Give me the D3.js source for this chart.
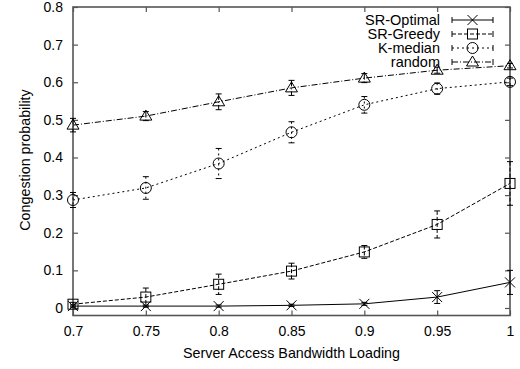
<!DOCTYPE html>
<html>
<head>
<meta charset="utf-8">
<script src="https://cdn.jsdelivr.net/npm/d3@7"></script>
<style>
  html, body { margin: 0; padding: 0; background: #fff; }
  svg { display: block; }
  text { font-family: "Liberation Sans", Arial, Helvetica, sans-serif; fill: #000; }
</style>
</head>
<body>
<svg id="chart" width="520" height="369"></svg>
<script>
// Bandwidth loading levels (x axis)
const loading = [0.7, 0.75, 0.8, 0.85, 0.9, 0.95, 1.0];

// Mean congestion probability per method, with error-bar half widths
const srOptimal    = [0.005, 0.005, 0.005, 0.007, 0.011, 0.029, 0.068];
const srOptimalErr = [0.003, 0.003, 0.003, 0.003, 0.004, 0.017, 0.032];

const srGreedy     = [0.010, 0.029, 0.063, 0.098, 0.149, 0.222, 0.331];
const srGreedyErr  = [0.005, 0.024, 0.027, 0.021, 0.017, 0.036, 0.058];

const kMedian      = [0.287, 0.319, 0.384, 0.467, 0.540, 0.583, 0.601];
const kMedianErr   = [0.020, 0.030, 0.040, 0.028, 0.022, 0.015, 0.010];

const randomPl     = [0.486, 0.510, 0.548, 0.585, 0.611, 0.632, 0.644];
const randomErr    = [0.018, 0.012, 0.021, 0.020, 0.012, 0.008, 0.006];

const xTicks = [0.7, 0.75, 0.8, 0.85, 0.9, 0.95, 1];
const yTicks = [0, 0.1, 0.2, 0.3, 0.4, 0.5, 0.6, 0.7, 0.8];

const seriesNames = ["SR-Optimal", "SR-Greedy", "K-median", "random"];

const series = [
  { name: seriesNames[0], values: srOptimal, err: srOptimalErr, dash: null,      marker: "cross"    },
  { name: seriesNames[1], values: srGreedy,  err: srGreedyErr,  dash: "4,2",     marker: "square"   },
  { name: seriesNames[2], values: kMedian,   err: kMedianErr,   dash: "2,3",     marker: "circle"   },
  { name: seriesNames[3], values: randomPl,  err: randomErr,    dash: "6,2,1,2", marker: "triangle" }
];

const svg = d3.select("#chart");
const plotLeft = 73, plotRight = 510, plotTop = 7, plotBottom = 315.5;

const x = d3.scaleLinear().domain([0.7, 1.0]).range([plotLeft, plotRight]);
const y = d3.scaleLinear().domain([-0.02, 0.8]).range([plotBottom, plotTop]);

const frameColor = "#555";
const tickLen = 5;

// Ticks mirrored on all four sides, pointing inward
const axes = svg.append("g").attr("class", "axes");
axes.append("g").attr("transform", `translate(0,${plotBottom})`)
  .call(d3.axisBottom(x).tickValues(xTicks).tickSize(-tickLen).tickFormat(d3.format("~g")).tickPadding(11));
axes.append("g").attr("transform", `translate(0,${plotTop})`)
  .call(d3.axisTop(x).tickValues(xTicks).tickSize(-tickLen).tickFormat(""));
axes.append("g").attr("transform", `translate(${plotLeft},0)`)
  .call(d3.axisLeft(y).tickValues(yTicks).tickSize(-tickLen).tickFormat(d3.format("~g")).tickPadding(10));
axes.append("g").attr("transform", `translate(${plotRight},0)`)
  .call(d3.axisRight(y).tickValues(yTicks).tickSize(-tickLen).tickFormat(""));

axes.selectAll(".domain").remove();
axes.selectAll(".tick line").attr("stroke", frameColor).attr("stroke-width", 1.2);
axes.selectAll(".tick text").style("font-size", "14px").attr("fill", "#000");

// Plot frame
svg.append("rect")
  .attr("x", plotLeft).attr("y", plotTop)
  .attr("width", plotRight - plotLeft).attr("height", plotBottom - plotTop)
  .attr("fill", "none").attr("stroke", frameColor).attr("stroke-width", 1.6);

// Axis titles
svg.append("text")
  .attr("x", (plotLeft + plotRight) / 2).attr("y", 358)
  .attr("text-anchor", "middle").style("font-size", "14.3px")
  .text("Server Access Bandwidth Loading");

svg.append("text")
  .attr("transform", `translate(29.5,160) rotate(-90)`)
  .attr("text-anchor", "middle").style("font-size", "14.3px")
  .text("Congestion probability");

// Marker drawing
function drawMarker(g, type, cx, cy) {
  const s = g.append("g").attr("transform", `translate(${cx},${cy})`)
    .attr("fill", "none").attr("stroke", "#000").attr("stroke-width", 1);
  if (type === "cross") {
    s.append("path").attr("d", "M-5,-5L5,5M-5,5L5,-5");
  } else if (type === "square") {
    s.append("rect").attr("x", -5).attr("y", -5).attr("width", 10).attr("height", 10);
  } else if (type === "circle") {
    s.append("circle").attr("r", 5.5);
  } else if (type === "triangle") {
    s.append("path").attr("d", "M0,-6L6,4L-6,4Z");
  }
}

const line = d3.line().x(d => x(d[0])).y(d => y(d[1]));
const plot = svg.append("g").attr("class", "plot");

series.forEach(sr => {
  const g = plot.append("g");
  const pts = loading.map((l, i) => [l, sr.values[i], sr.err[i]]);

  // error bars
  pts.forEach(p => {
    const px = x(p[0]), y1 = y(p[1] + p[2]), y0 = y(p[1] - p[2]);
    const eb = g.append("g").attr("stroke", "#000").attr("stroke-width", 1);
    eb.append("line").attr("x1", px).attr("x2", px).attr("y1", y1).attr("y2", y0)
      .attr("stroke-dasharray", sr.dash);
    eb.append("line").attr("x1", px - 3).attr("x2", px + 3).attr("y1", y1).attr("y2", y1);
    eb.append("line").attr("x1", px - 3).attr("x2", px + 3).attr("y1", y0).attr("y2", y0);
  });

  g.append("path").datum(pts).attr("d", line)
    .attr("fill", "none").attr("stroke", "#000").attr("stroke-width", 1)
    .attr("stroke-dasharray", sr.dash);

  pts.forEach(p => drawMarker(g, sr.marker, x(p[0]), y(p[1])));
});

// Legend
const legend = svg.append("g").attr("class", "legend");
series.forEach((sr, i) => {
  const cy = 20 + i * 14;
  legend.append("text")
    .attr("x", 440).attr("y", cy).attr("dy", "0.36em")
    .attr("text-anchor", "end").style("font-size", "14.5px")
    .text(sr.name);
  const lg = legend.append("g").attr("stroke", "#000").attr("stroke-width", 1);
  lg.append("line").attr("x1", 452).attr("x2", 493).attr("y1", cy).attr("y2", cy)
    .attr("stroke-dasharray", sr.dash);
  lg.append("line").attr("x1", 452).attr("x2", 452).attr("y1", cy - 3).attr("y2", cy + 3);
  lg.append("line").attr("x1", 493).attr("x2", 493).attr("y1", cy - 3).attr("y2", cy + 3);
  drawMarker(legend, sr.marker, 472.5, cy);
});
</script>
</body>
</html>
